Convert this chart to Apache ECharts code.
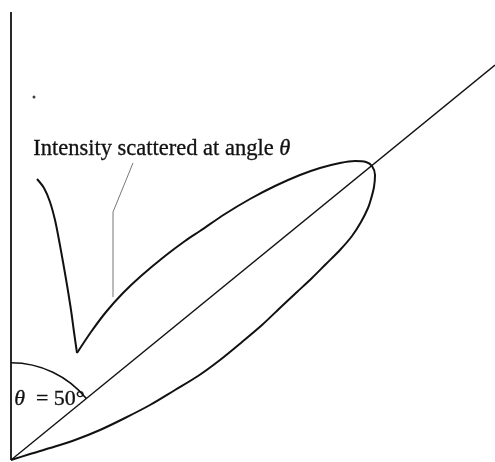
<!DOCTYPE html>
<html>
<head>
<meta charset="utf-8">
<script src="https://cdn.jsdelivr.net/npm/echarts@6/dist/echarts.min.js"></script>
<style>
  html, body { margin: 0; padding: 0; background: #fff; }
  #chart { width: 495px; height: 462px; }
</style>
</head>
<body>
<div id="chart"></div>
<script>
(function() {
	'use strict';

	/****** data : [x, y] measured from the scattering point ******/
	var beamAngle = 51;              // angle of the beam from the vertical, as drawn
	var labelAngle = '50°';

	// left branch of the scattered intensity curve, down to the cusp
	var lobeLeft = [
		[26, 281], [33, 272], [39, 258], [44, 240], [48, 220],
		[52, 198], [56, 175], [60, 150], [63, 128], [66, 107]
	];
	// main lobe, from the cusp round the tip and back to the origin
	var lobeMain = [
		[66, 107], [80, 128], [95, 148], [112, 167], [130, 184],
		[154, 204], [174, 219], [189, 229], [214, 246], [239, 261],
		[264, 274], [289, 285], [309, 292], [329, 297], [344, 299],
		[355, 298], [361, 294], [364, 285], [363, 273], [360, 261],
		[357, 252], [350, 238], [341, 224], [329, 210], [315, 196],
		[301, 182], [286, 168], [271, 154], [251, 135], [231, 118],
		[209, 100], [187, 84], [164, 70], [139, 55], [114, 42],
		[89, 30], [64, 20], [39, 12], [19, 6], [0, 0]
	];
	var verticalAxis = [[0, 0], [0, 448]];
	var beamLine = [[0, 0], [484, 395]];
	var leaderLine = [[122, 297], [102, 248], [102, 163]];
	var speck = [[23, 363]];

	var ink = '#111';

	function curve(name, data, width, color, smooth) {
		return {
			name: name,
			type: 'line',
			data: data,
			symbol: 'none',
			smooth: smooth,
			silent: true,
			lineStyle: { width: width, color: color }
		};
	}

	var hidden = {
		axisLine: { show: false },
		axisTick: { show: false },
		axisLabel: { show: false },
		splitLine: { show: false }
	};

	var option = {
		animation: false,
		grid: {
			left: 11,
			top: 0,
			width: 484,
			height: 460
		},
		xAxis: Object.assign({ type: 'value', min: 0, max: 484 }, hidden),
		yAxis: Object.assign({ type: 'value', min: 0, max: 460 }, hidden),
		series: [
			curve('axis', verticalAxis, 1.8, ink, false),
			curve('beam', beamLine, 1.4, ink, false),
			curve('lobeLeft', lobeLeft, 2, ink, 0.3),
			curve('lobeMain', lobeMain, 2, ink, 0.3),
			curve('leader', leaderLine, 1, '#777', false),
			{
				name: 'speck',
				type: 'scatter',
				data: speck,
				symbolSize: 3,
				silent: true,
				itemStyle: { color: ink }
			},
			{
				name: 'theta',
				type: 'gauge',
				center: [11, 460],
				radius: 98,
				startAngle: 90,
				endAngle: 90 - beamAngle,
				min: 0,
				max: beamAngle,
				silent: true,
				axisLine: { lineStyle: { width: 1.6, color: [[1, ink]] } },
				splitLine: { show: false },
				axisTick: { show: false },
				axisLabel: { show: false },
				pointer: { show: false },
				anchor: { show: false },
				title: { show: false },
				detail: { show: false },
				data: [{ value: 0 }]
			}
		],
		graphic: [
			{
				type: 'text',
				left: 33,
				top: 137,
				style: {
					text: 'Intensity scattered at angle {i|θ}',
					font: '22.5px "Liberation Serif"',
					fill: ink,
					stroke: ink,
					lineWidth: 0.3,
					rich: { i: { font: 'italic 22.5px "Liberation Serif"', fill: ink } }
				}
			},
			{
				type: 'text',
				left: 14,
				top: 388,
				style: {
					text: '{i|θ}  = ' + labelAngle,
					font: '22px "Liberation Serif"',
					fill: ink,
					stroke: ink,
					lineWidth: 0.3,
					rich: { i: { font: 'italic 22px "Liberation Serif"', fill: ink } }
				}
			}
		]
	};

	var chart = echarts.init(document.getElementById('chart'));
	chart.setOption(option);
})();
</script>
</body>
</html>
